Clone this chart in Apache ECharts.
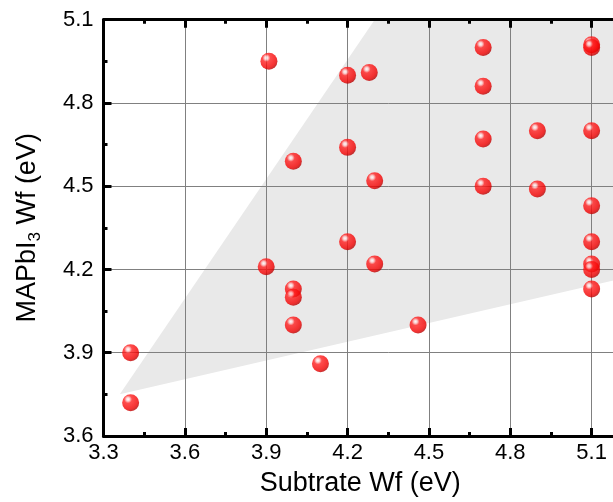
<!DOCTYPE html>
<html>
<head>
<meta charset="utf-8">
<script src="https://cdn.jsdelivr.net/npm/echarts@6/dist/echarts.min.js"></script>
<style>html,body{margin:0;padding:0;background:#fff;overflow:hidden;width:613px;height:502px;}#c{width:676px;height:502px;}</style>
</head>
<body>
<div id="c"></div>
<script>
// Data
const substrateWf = [3.40, 3.40, 3.91, 3.90, 4.00, 4.00, 4.00, 4.00, 4.10, 4.20, 4.20, 4.20, 4.28, 4.30, 4.30, 4.46, 4.70, 4.70, 4.70, 4.70, 4.90, 4.90, 5.10, 5.10, 5.10, 5.10, 5.10, 5.10, 5.10, 5.10];
const mapbiWf     = [3.90, 3.72, 4.95, 4.21, 4.59, 4.13, 4.10, 4.00, 3.86, 4.90, 4.64, 4.30, 4.91, 4.52, 4.22, 4.00, 5.00, 4.86, 4.67, 4.50, 4.70, 4.49, 5.01, 5.00, 4.70, 4.43, 4.30, 4.22, 4.20, 4.13];
// Shaded region vertices
const regionX = [3.36, 4.30, 5.40, 5.40];
const regionY = [3.75, 5.10, 5.10, 4.21];
const xTicks = [3.3, 3.6, 3.9, 4.2, 4.5, 4.8, 5.1];
const yTicks = [3.6, 3.9, 4.2, 4.5, 4.8, 5.1];

const points = substrateWf.map((x, i) => [x, mapbiWf[i]]);
const regionPts = regionX.map((x, i) => [x, regionY[i]]);

const chart = echarts.init(document.getElementById('c'), null, {renderer: 'canvas'});
const FONT = 'Liberation Sans, Arial, sans-serif';
const tickStyle = {show: true, inside: true, length: 8, lineStyle: {color: '#000', width: 3}};
const minorStyle = {show: true, splitNumber: 2, length: 4, lineStyle: {color: '#000', width: 3}};

chart.setOption({
  animation: false,
  backgroundColor: '#fff',
  grid: {left: 103.5, top: 19.7, bottom: 64.7, right: 0, containLabel: false},
  xAxis: [{
    type: 'value', min: xTicks[0], max: 5.4, interval: 0.3, position: 'bottom',
    name: 'Subtrate Wf (eV)', nameLocation: 'middle', nameGap: 34,
    nameTextStyle: {fontFamily: FONT, fontSize: 27, color: '#000', padding: [0, 56, 0, 0]},
    axisLine: {show: true, onZero: false, lineStyle: {color: '#000', width: 3}},
    axisTick: tickStyle, minorTick: minorStyle,
    axisLabel: {fontFamily: FONT, fontSize: 22, color: '#000', margin: 6,
      formatter: v => xTicks.some(t => Math.abs(t - v) < 1e-6) ? v.toFixed(1) : ''},
    splitLine: {show: true, lineStyle: {color: '#808080', width: 1}}
  }, {
    type: 'value', min: xTicks[0], max: 5.4, interval: 0.3, position: 'top',
    axisLine: {show: true, onZero: false, lineStyle: {color: '#000', width: 3}},
    axisTick: tickStyle, minorTick: minorStyle,
    axisLabel: {show: false}, splitLine: {show: false}
  }],
  yAxis: [{
    type: 'value', min: yTicks[0], max: yTicks[yTicks.length - 1], interval: 0.3,
    name: '{n|MAPbI}{s|3}{n| Wf (eV)}', nameLocation: 'middle', nameGap: 60, nameRotate: 90,
    nameTextStyle: {
      fontFamily: FONT, color: '#000',
      rich: {
        n: {fontFamily: FONT, fontSize: 27, color: '#000', lineHeight: 32},
        s: {fontFamily: FONT, fontSize: 17, color: '#000', lineHeight: 14, verticalAlign: 'bottom'}
      }
    },
    axisLine: {show: true, onZero: false, lineStyle: {color: '#000', width: 3}},
    axisTick: tickStyle, minorTick: minorStyle,
    axisLabel: {fontFamily: FONT, fontSize: 22, color: '#000', margin: 10,
      formatter: v => v.toFixed(1)},
    splitLine: {show: true, lineStyle: {color: '#808080', width: 1}}
  }],
  series: [{
    type: 'custom',
    z: -1,
    clip: true,
    silent: true,
    data: [0],
    renderItem: (params, api) => {
      const pts = regionPts.map(p => api.coord(p));
      return {
        type: 'polygon',
        shape: {points: pts},
        style: {fill: '#e9e9e9', stroke: null}
      };
    }
  }, {
    type: 'scatter',
    xAxisIndex: 0, yAxisIndex: 0,
    symbol: 'circle', symbolSize: 17,
    data: points,
    itemStyle: {
      color: new echarts.graphic.RadialGradient(0.35, 0.3, 0.72, [
        {offset: 0, color: '#ffffff'},
        {offset: 0.14, color: '#ffc8c8'},
        {offset: 0.32, color: '#ff2020'},
        {offset: 0.8, color: '#f20000'},
        {offset: 1, color: '#b80000'}
      ])
    }
  }]
});
</script>
</body>
</html>
